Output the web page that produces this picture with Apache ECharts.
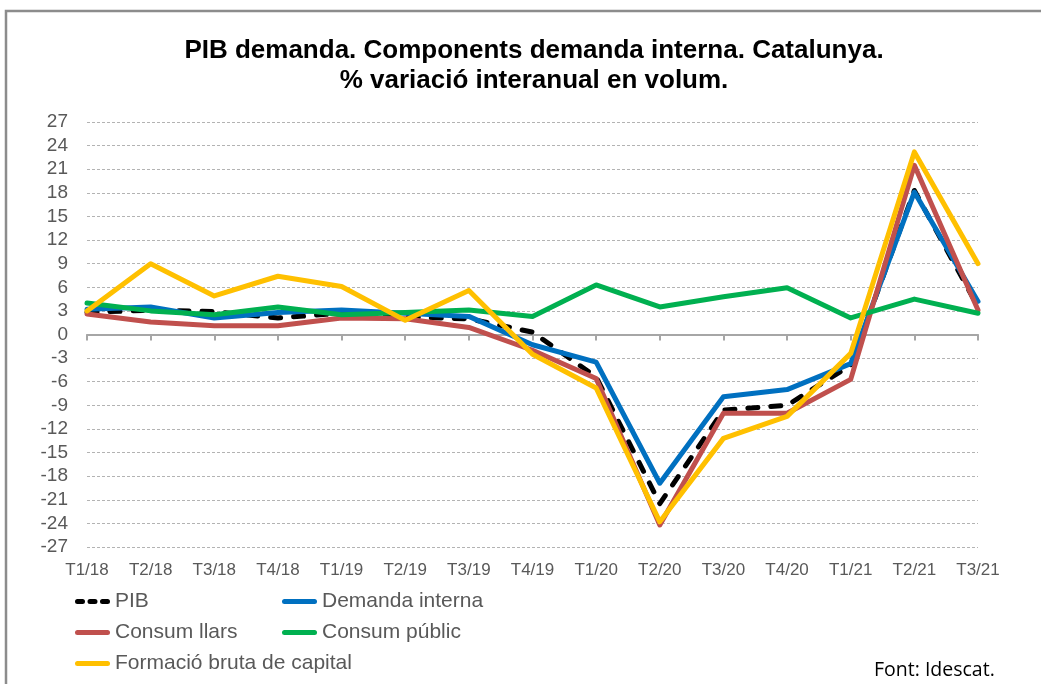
<!DOCTYPE html>
<html>
<head>
<meta charset="utf-8">
<script src="https://cdn.jsdelivr.net/npm/echarts@6/dist/echarts.min.js"></script>
<style>
html,body{margin:0;padding:0;background:#fff;}
#c{width:1041px;height:684px;}
</style>
</head>
<body>
<div id="c"></div>
<script>
const categories = ['T1/18','T2/18','T3/18','T4/18','T1/19','T2/19','T3/19','T4/19','T1/20','T2/20','T3/20','T4/20','T1/21','T2/21','T3/21'];
const pib = [2.8, 3.1, 2.9, 2.1, 2.7, 2.2, 2.0, 0.3, -5.4, -21.5, -9.6, -9.0, -3.9, 18.3, 3.5];
const demandaInterna = [3.2, 3.5, 2.1, 2.8, 3.1, 2.7, 2.3, -1.3, -3.5, -18.9, -7.9, -7.0, -3.7, 18.1, 4.2];
const consumLlars = [2.6, 1.6, 1.1, 1.1, 2.1, 2.0, 0.9, -2.0, -5.6, -24.2, -10.0, -10.0, -5.7, 21.5, 3.1];
const consumPublic = [4.0, 3.0, 2.5, 3.5, 2.5, 2.8, 3.1, 2.3, 6.3, 3.5, 4.8, 5.95, 2.1, 4.5, 2.7];
const formacioBruta = [3.0, 9.0, 4.9, 7.4, 6.1, 1.8, 5.6, -2.5, -6.8, -23.8, -13.2, -10.4, -2.4, 23.2, 9.0];
const yTicks = {min: -27, max: 27, step: 3};

const gray = '#595959';
const FF = 'Liberation Sans, Arial, sans-serif';
const chart = echarts.init(document.getElementById('c'), null, {renderer: 'canvas'});

function line(name, data, color, extra) {
  return Object.assign({
    name: name, type: 'line', data: data, symbol: 'none', smooth: false,
    xAxisIndex: 0,
    lineStyle: {color: color, width: 5, cap: 'round', join: 'round'},
    itemStyle: {color: color},
    emphasis: {disabled: true}
  }, extra || {});
}

const solidIcon = 'path://M2.5,0h30a2.5,2.5 0 0 1 0,5h-30a2.5,2.5 0 0 1 0,-5z';
const dashIcon = 'path://M2.5,0h5a2.5,2.5 0 0 1 0,5h-5a2.5,2.5 0 0 1 0,-5z M15,0h5a2.5,2.5 0 0 1 0,5h-5a2.5,2.5 0 0 1 0,-5z M27.5,0h5a2.5,2.5 0 0 1 0,5h-5a2.5,2.5 0 0 1 0,-5z';

const legendText = {color: gray, fontSize: 21, fontFamily: FF, lineHeight: 20};
const legendCommon = {orient: 'vertical', top: 591, itemWidth: 35, itemHeight: 5, itemGap: 10, textStyle: legendText, padding: 0, symbolKeepAspect: false};

chart.setOption({
  animation: false,
  backgroundColor: '#fff',
  title: {
    text: 'PIB demanda. Components demanda interna. Catalunya.\n% variació interanual en volum.',
    left: 529, top: 31, textAlign: 'center',
    textStyle: {fontSize: 26, fontWeight: 'bold', color: '#000', lineHeight: 30, fontFamily: FF}
  },
  grid: {left: 87, right: 63, top: 122, bottom: 137, containLabel: false},
  legend: [
    Object.assign({left: 75, data: [{name: 'PIB', icon: dashIcon}, {name: 'Consum llars', icon: solidIcon}, {name: 'Formació bruta de capital', icon: solidIcon}]}, legendCommon),
    Object.assign({left: 282, data: [{name: 'Demanda interna', icon: solidIcon}, {name: 'Consum públic', icon: solidIcon}]}, legendCommon)
  ],
  xAxis: [
    {type: 'category', data: categories, boundaryGap: false,
     axisLine: {onZero: true, lineStyle: {color: '#a6a6a6', width: 2}},
     axisTick: {show: true, length: 6, lineStyle: {color: '#a6a6a6', width: 2}},
     axisLabel: {show: false}, splitLine: {show: false}},
    {type: 'category', data: categories, boundaryGap: false, position: 'bottom',
     axisLine: {show: false, onZero: false}, axisTick: {show: false},
     axisLabel: {show: true, color: gray, fontSize: 17, margin: 15, interval: 0, fontFamily: FF},
     splitLine: {show: false}}
  ],
  yAxis: {
    type: 'value', min: yTicks.min, max: yTicks.max, interval: yTicks.step,
    axisLine: {show: false}, axisTick: {show: false},
    axisLabel: {color: gray, fontSize: 19, margin: 19, fontFamily: FF},
    splitLine: {show: true, lineStyle: {color: '#b3b3b3', width: 1, type: [3, 2]}}
  },
  series: [
    line('PIB', pib, '#000000', {lineStyle: {color: '#000', width: 5, type: [10, 13], cap: 'round', join: 'round'}}),
    line('Demanda interna', demandaInterna, '#0070c0'),
    line('Consum llars', consumLlars, '#c0504d'),
    line('Consum públic', consumPublic, '#00b050'),
    line('Formació bruta de capital', formacioBruta, '#ffc000')
  ],
  graphic: [
    {type: 'rect', shape: {x: 6, y: 11, width: 1100, height: 800}, style: {fill: 'none', stroke: '#8c8c8c', lineWidth: 2.5}, silent: true, z: -10},
    {type: 'text', left: 874, top: 660, style: {text: 'Font: Idescat.', fontSize: 19.5, fill: '#000', fontFamily: 'Open Sans, sans-serif'}}
  ]
});
</script>
</body>
</html>
